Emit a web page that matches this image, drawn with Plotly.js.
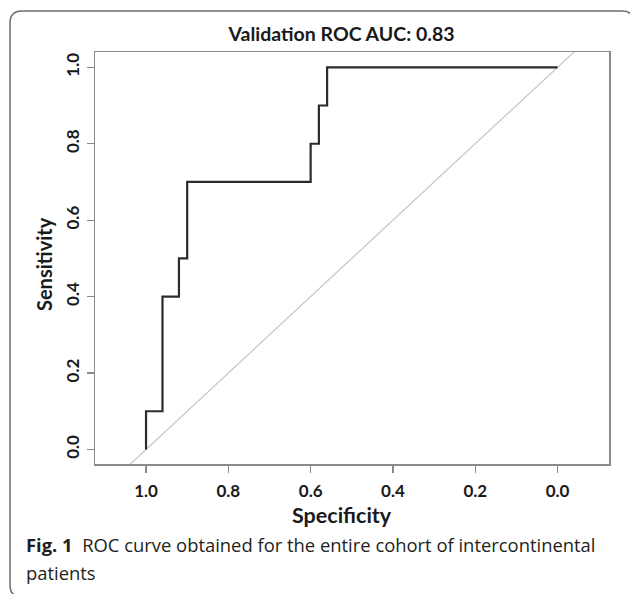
<!DOCTYPE html>
<html>
<head>
<meta charset="utf-8">
<script src="https://cdn.plot.ly/plotly-3.0.1.min.js"></script>
<style>
  html, body { margin: 0; padding: 0; background: #ffffff; }
  #chart { width: 630px; height: 594px; }
</style>
</head>
<body>
<div id="chart"></div>
<script>
// ROC curve step points (specificity on reversed x axis, sensitivity on y)
const specificity = [1.00, 1.00, 0.96, 0.92, 0.90, 0.60, 0.58, 0.56, 0.00];
const sensitivity = [0.00, 0.10, 0.40, 0.50, 0.70, 0.80, 0.90, 1.00, 1.00];

// chance (diagonal) reference line, drawn across the whole plot box
const chanceSpec = [1.20, -0.20];
const chanceSens = [-0.20, 1.20];

const tickVals = [0, 0.2, 0.4, 0.6, 0.8, 1.0];
const tickText = ["<b>0.0</b>", "<b>0.2</b>", "<b>0.4</b>", "<b>0.6</b>", "<b>0.8</b>", "<b>1.0</b>"];

const titleText = "Validation ROC AUC: 0.83";
const xTitle = "Specificity";
const yTitle = "Sensitivity";
const captionLine1 = "<b>Fig. 1</b>  ROC curve obtained for the entire cohort of intercontinental";
const captionLine2 = "patients";

// geometry (pixels)
const W = 630, H = 594;
const M = { l: 95, r: 21, t: 52, b: 130 };
const PW = W - M.l - M.r, PH = H - M.t - M.b;
const px = x => (x - M.l) / PW;
const py = y => (H - M.b - y) / PH;

// outer rounded frame of the figure panel
const fL = 10, fT = 11, fR = 634, fB = 597, rad = 12;
const framePath =
  `M ${px(fL)},${py(fB - rad)} L ${px(fL)},${py(fT + rad)} ` +
  `Q ${px(fL)},${py(fT)} ${px(fL + rad)},${py(fT)} ` +
  `L ${px(fR - rad)},${py(fT)} Q ${px(fR)},${py(fT)} ${px(fR)},${py(fT + rad)} ` +
  `L ${px(fR)},${py(fB - rad)} Q ${px(fR)},${py(fB)} ${px(fR - rad)},${py(fB)} ` +
  `L ${px(fL + rad)},${py(fB)} Q ${px(fL)},${py(fB)} ${px(fL)},${py(fB - rad)} Z`;

const chartFont = "Lato, 'Open Sans', sans-serif";
const textColor = "#1a1a1a";

const traces = [
  {
    x: chanceSpec, y: chanceSens, mode: "lines", type: "scatter",
    line: { color: "#c8c8c8", width: 1.3 }, hoverinfo: "skip", showlegend: false
  },
  {
    x: specificity, y: sensitivity, mode: "lines", type: "scatter",
    line: { color: "#2b2b2b", width: 2.2, shape: "hv" }, showlegend: false
  }
];

const axisCommon = {
  showgrid: false, zeroline: false,
  showline: true, mirror: true, linecolor: "#8a8a8a", linewidth: 1.5,
  ticks: "outside", ticklen: 7, tickwidth: 1.2, tickcolor: "#8a8a8a",
  tickvals: tickVals, ticktext: tickText,
  tickfont: { family: chartFont, size: 17, color: textColor }
};

const layout = {
  width: W, height: H,
  margin: M,
  paper_bgcolor: "#ffffff", plot_bgcolor: "#ffffff",
  showlegend: false,
  title: {
    text: "<b>" + titleText + "</b>",
    x: px(341.5), xref: "paper", xanchor: "center",
    y: 1 - 34.5 / H, yref: "container", yanchor: "middle",
    font: { family: chartFont, size: 19.5, color: textColor }
  },
  xaxis: Object.assign({}, axisCommon, {
    range: [1.124, -0.125],
    ticklabelstandoff: 4
  }),
  yaxis: Object.assign({}, axisCommon, {
    range: [-0.038, 1.04],
    tickangle: -90,
    ticklabelstandoff: 1
  }),
  shapes: [
    {
      type: "path", xref: "paper", yref: "paper", path: framePath,
      line: { color: "#6e6e6e", width: 1.5 }, fillcolor: "rgba(0,0,0,0)", layer: "below"
    }
  ],
  annotations: [
    {
      text: "<b>" + xTitle + "</b>", xref: "paper", yref: "paper",
      x: px(342), y: py(515), xanchor: "center", yanchor: "middle",
      showarrow: false, font: { family: chartFont, size: 21.5, color: textColor }
    },
    {
      text: "<b>" + yTitle + "</b>", xref: "paper", yref: "paper",
      x: px(44), y: py(264), xanchor: "center", yanchor: "middle", textangle: -90,
      showarrow: false, font: { family: chartFont, size: 20, color: textColor }
    },
    {
      text: captionLine1, xref: "paper", yref: "paper",
      x: px(24), y: py(544), xanchor: "left", yanchor: "middle", align: "left",
      showarrow: false, font: { family: "'Open Sans', sans-serif", size: 18.4, color: "#231f20" }
    },
    {
      text: captionLine2, xref: "paper", yref: "paper",
      x: px(24), y: py(572), xanchor: "left", yanchor: "middle", align: "left",
      showarrow: false, font: { family: "'Open Sans', sans-serif", size: 18.4, color: "#231f20" }
    }
  ]
};

Plotly.newPlot("chart", traces, layout, { displayModeBar: false, staticPlot: true });
</script>
</body>
</html>
